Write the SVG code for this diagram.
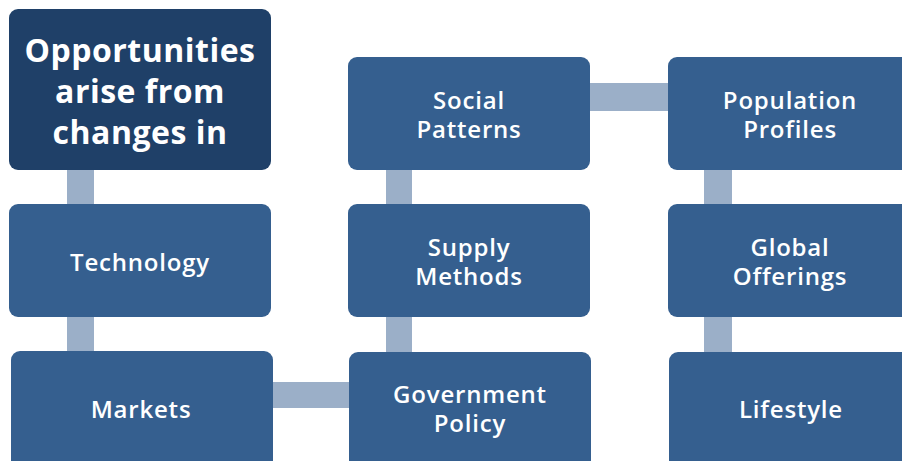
<svg xmlns="http://www.w3.org/2000/svg" width="902" height="461" viewBox="0 0 902 461">
<style>
.box{fill:#355F8F;}
.title{fill:#1F4068;}
.conn{fill:#9BAFC8;}
text{font-family:"Open Sans",Lato,"Liberation Sans",sans-serif;font-weight:600;fill:#FFFFFF;text-anchor:middle;}
.t{font-size:32px;letter-spacing:0.5px;font-weight:700;}
.n{font-size:24px;letter-spacing:0.8px;}
</style>
<rect width="902" height="461" fill="#FFFFFF"/>
<g id="connectors">
<rect class="conn" x="67" y="168" width="27" height="38"/>
<rect class="conn" x="67" y="315" width="27" height="38"/>
<rect class="conn" x="270" y="382" width="81" height="26"/>
<rect class="conn" x="386" y="168" width="26" height="38"/>
<rect class="conn" x="386" y="315" width="26" height="38"/>
<rect class="conn" x="588" y="83" width="82" height="28"/>
<rect class="conn" x="704" y="168" width="28" height="38"/>
<rect class="conn" x="704" y="315" width="28" height="38"/>
</g>
<g id="title">
<rect class="title" x="9" y="9" width="262" height="161" rx="9"/>
<text class="t"><tspan x="140" y="62">Opportunities</tspan><tspan x="140" y="103">arise from</tspan><tspan x="140" y="144">changes in</tspan></text>
</g>
<g id="technology">
<rect class="box" x="9" y="204" width="262" height="113" rx="9"/>
<text class="n" x="140" y="271">Technology</text>
</g>
<g id="markets">
<rect class="box" x="11" y="351" width="262" height="125" rx="9"/>
<text class="n" x="141" y="418">Markets</text>
</g>
<g id="social-patterns">
<rect class="box" x="348" y="57" width="242" height="113" rx="9"/>
<text class="n"><tspan x="469" y="109">Social</tspan><tspan x="469" y="138">Patterns</tspan></text>
</g>
<g id="supply-methods">
<rect class="box" x="348" y="204" width="242" height="113" rx="9"/>
<text class="n"><tspan x="469" y="256">Supply</tspan><tspan x="469" y="285">Methods</tspan></text>
</g>
<g id="government-policy">
<rect class="box" x="349" y="352" width="242" height="125" rx="9"/>
<text class="n"><tspan x="470" y="403">Government</tspan><tspan x="470" y="432">Policy</tspan></text>
</g>
<g id="population-profiles">
<rect class="box" x="668" y="57" width="244" height="113" rx="9"/>
<text class="n"><tspan x="790" y="109">Population</tspan><tspan x="790" y="138">Profiles</tspan></text>
</g>
<g id="global-offerings">
<rect class="box" x="668" y="204" width="244" height="113" rx="9"/>
<text class="n"><tspan x="790" y="256">Global</tspan><tspan x="790" y="285">Offerings</tspan></text>
</g>
<g id="lifestyle">
<rect class="box" x="669" y="352" width="244" height="125" rx="9"/>
<text class="n" x="791" y="418">Lifestyle</text>
</g>
</svg>
